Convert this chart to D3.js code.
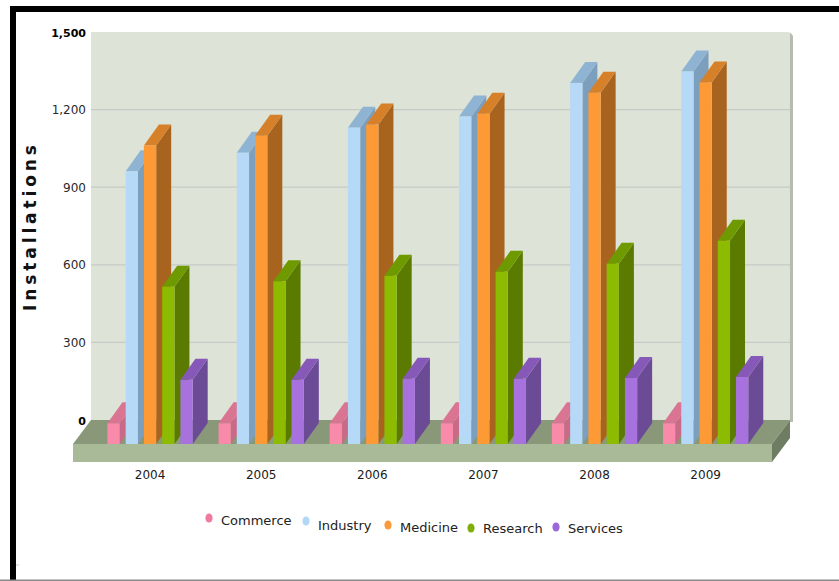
<!DOCTYPE html>
<html>
<head>
<meta charset="utf-8">
<script src="https://cdn.jsdelivr.net/npm/d3@7"></script>
<style>
  html, body { margin: 0; padding: 0; background: #ffffff; }
  svg { display: block; }
</style>
</head>
<body>
<svg id="chart" width="839" height="581"></svg>
<script>
// ---- data ----
const years = ["2004", "2005", "2006", "2007", "2008", "2009"];
const seriesNames = ["Commerce", "Industry", "Medicine", "Research", "Services"];
const commerce = [80, 80, 80, 80, 80, 80];
const industry = [1054, 1126, 1223, 1266, 1396, 1440];
const medicine = [1154, 1192, 1235, 1277, 1358, 1398];
const research = [608, 629, 650, 666, 697, 786];
const services = [248, 248, 252, 252, 255, 259];
const yTicks = [0, 300, 600, 900, 1200, 1500];
const yTickLabels = ["0", "300", "600", "900", "1,200", "1,500"];
const yTitle = "Installations";

const seriesValues = [commerce, industry, medicine, research, services];
const colors = [
  { front: "#f98aa9", side: "#c76b87", top: "#d97592", dot: "#f07a9e" },
  { front: "#b5d9f7", side: "#7b9fbd", top: "#8fb4d3", dot: "#b2d8f6" },
  { front: "#fe9a36", side: "#a8641f", top: "#d6802a", dot: "#fb9a3a" },
  { front: "#8cbb02", side: "#5a7b00", top: "#6e9a00", dot: "#80af0c" },
  { front: "#a772dd", side: "#6b4a96", top: "#8658b8", dot: "#9c6ad7" }
];

// ---- layout ----
const svg = d3.select("#chart");
const wall = { x0: 91, x1: 790, yTop: 32, yBottom: 420 };
const floorDepth = { dx: 18, dy: 24 };
const barDepth = { dx: 15, dy: 21 };
const slabH = 18;

const y = d3.scaleLinear().domain([0, 1500]).range([wall.yBottom, wall.yTop]);
const x = d3.scaleBand().domain(years).range([94.5, 761.2]);
const inner = d3.scaleBand().domain(seriesNames).range([0, 85.25]).paddingInner(0.329);

// frame
svg.append("rect").attr("x", 10).attr("y", 6).attr("width", 829).attr("height", 6).attr("fill", "#000");
svg.append("rect").attr("x", 10).attr("y", 6).attr("width", 6).attr("height", 575).attr("fill", "#000");
svg.append("rect").attr("x", 0).attr("y", 579.5).attr("width", 839).attr("height", 1.5).attr("fill", "#8a8a8a");
svg.append("line").attr("x1", 16).attr("x2", 19).attr("y1", 565).attr("y2", 565).attr("stroke", "#c8c8c8");

// back wall with right-side shade
svg.append("path")
  .attr("d", `M${wall.x1 - 2},${wall.yTop + 1} Q${wall.x1 + 1},${wall.yTop} ${wall.x1 + 3},${wall.yTop + 4} L${wall.x1 + 3},${wall.yBottom + 2} L${wall.x1},${wall.yBottom + 2} Z`)
  .attr("fill", "#b6bcb0");
svg.append("path")
  .attr("d", `M${wall.x0},${wall.yTop} L${wall.x1 - 2},${wall.yTop} Q${wall.x1},${wall.yTop} ${wall.x1},${wall.yTop + 2} L${wall.x1},${wall.yBottom} L${wall.x0},${wall.yBottom} Z`)
  .attr("fill", "#dde3d6");

// gridlines
svg.append("g").selectAll("line")
  .data(yTicks.filter(t => t > 0 && t < 1500))
  .join("line")
  .attr("x1", wall.x0).attr("x2", wall.x1)
  .attr("y1", d => y(d)).attr("y2", d => y(d))
  .attr("stroke", "#c6ccc5").attr("stroke-width", 1.2);

// y tick labels
svg.append("g").selectAll("text")
  .data(yTicks)
  .join("text")
  .attr("x", 86)
  .attr("y", d => y(d) + 4.5)
  .attr("text-anchor", "end")
  .attr("font-family", "DejaVu Sans, Verdana, sans-serif")
  .attr("font-size", d => (d === 0 || d === 1500) ? 11 : 12)
  .attr("font-weight", d => (d === 0 || d === 1500) ? "bold" : "normal")
  .attr("fill", d => (d === 0 || d === 1500) ? "#000" : "#2a2a2a")
  .text((d, i) => yTickLabels[i]);

// y title
svg.append("text")
  .attr("transform", `translate(36,228) rotate(-90)`)
  .attr("text-anchor", "middle")
  .attr("font-family", "DejaVu Sans, Verdana, sans-serif")
  .attr("font-size", 17)
  .attr("font-weight", "bold")
  .attr("textLength", 166)
  .attr("lengthAdjust", "spacing")
  .attr("fill", "#111")
  .text(yTitle);

// floor
const fy0 = wall.yBottom, fy1 = wall.yBottom + floorDepth.dy;
svg.append("path")
  .attr("d", `M${wall.x0},${fy0} L${wall.x1},${fy0} L${wall.x1 - floorDepth.dx},${fy1} L${wall.x0 - floorDepth.dx},${fy1} Z`)
  .attr("fill", "#889879");
svg.append("rect")
  .attr("x", wall.x0 - floorDepth.dx).attr("y", fy1)
  .attr("width", wall.x1 - wall.x0).attr("height", slabH)
  .attr("fill", "#a9ba98");
svg.append("path")
  .attr("d", `M${wall.x1 - floorDepth.dx},${fy1} L${wall.x1},${fy0} L${wall.x1},${fy0 + slabH} L${wall.x1 - floorDepth.dx},${fy1 + slabH} Z`)
  .attr("fill", "#6e7d62");

// bars
const barsG = svg.append("g");
years.forEach((yr, gi) => {
  seriesNames.forEach((s, si) => {
    const v = seriesValues[si][gi];
    const c = colors[si];
    const bx = x(yr) + (x.bandwidth() - inner.step() * 5 + inner.step() - inner.bandwidth()) / 2 + inner(s);
    const bw = inner.bandwidth();
    const base = y(0) + floorDepth.dy;
    const top = y(v) + floorDepth.dy;
    const g = barsG.append("g");
    g.append("path")
      .attr("d", `M${bx + bw},${top} L${bx + bw + barDepth.dx},${top - barDepth.dy} L${bx + bw + barDepth.dx},${base - barDepth.dy} L${bx + bw},${base} Z`)
      .attr("fill", c.side);
    g.append("path")
      .attr("d", `M${bx},${top} L${bx + barDepth.dx},${top - barDepth.dy} L${bx + bw + barDepth.dx},${top - barDepth.dy} L${bx + bw},${top} Z`)
      .attr("fill", c.top);
    g.append("rect")
      .attr("x", bx).attr("y", top)
      .attr("width", bw).attr("height", base - top)
      .attr("fill", c.front);
  });
});

// x labels
svg.append("g").selectAll("text")
  .data(years)
  .join("text")
  .attr("x", d => x(d) + x.bandwidth() / 2)
  .attr("y", 479)
  .attr("text-anchor", "middle")
  .attr("font-family", "DejaVu Sans, Verdana, sans-serif")
  .attr("font-size", 12)
  .attr("fill", "#1a1a1a")
  .text(d => d);

// legend
const legendX = [209, 306, 388, 471, 556];
const legendDotY = [518, 521, 525, 528, 527];
const legendTextY = [525, 530, 532, 533, 533];
const lg = svg.append("g");
seriesNames.forEach((s, i) => {
  lg.append("ellipse")
    .attr("cx", legendX[i]).attr("cy", legendDotY[i])
    .attr("rx", 3.6).attr("ry", 4.6)
    .attr("fill", colors[i].dot);
  lg.append("text")
    .attr("x", legendX[i] + 12).attr("y", legendTextY[i])
    .attr("font-family", "DejaVu Sans, Verdana, sans-serif")
    .attr("font-size", 13)
    .attr("fill", "#222")
    .text(s);
});
</script>
</body>
</html>
